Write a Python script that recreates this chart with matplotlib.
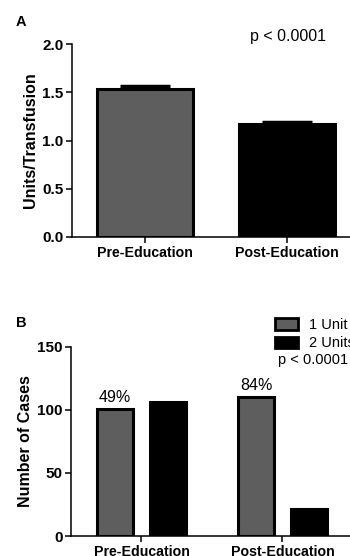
import matplotlib
matplotlib.use("Agg")
import matplotlib.pyplot as plt
from matplotlib.patches import Patch

plt.rcParams['font.family'] = ['Liberation Sans', 'DejaVu Sans']

groups = ["Pre-Education", "Post-Education"]
units_per_transfusion = [1.53, 1.17]
units_sem = [0.03, 0.025]
one_unit_cases = [101, 110]
two_unit_cases = [106, 21]
pct_labels = ["49%", "84%"]
series_names = ["1 Unit", "2 Units"]

GRAY = "#5e5e5e"
W, H = 350, 556
fig = plt.figure(figsize=(W / 100, H / 100), dpi=100)

def style(ax):
    for s in ("top", "right"):
        ax.spines[s].set_visible(False)
    for s in ("left", "bottom"):
        ax.spines[s].set_linewidth(1.1)
    ax.tick_params(direction="out", length=4, width=1.1)
    ax.tick_params(axis="y", labelsize=11, pad=2)
    ax.tick_params(axis="x", labelsize=10.2, pad=2.5)
    for lab in ax.get_xticklabels() + ax.get_yticklabels():
        lab.set_fontweight("bold")

# Panel A
axA = fig.add_axes([72 / W, 1 - 237 / H, 1 - 72 / W, (237 - 44) / H])
x = [0, 1]
axA.bar(x, units_per_transfusion, width=0.68, color=[GRAY, "black"],
        edgecolor="black", linewidth=2.2, zorder=2)
axA.errorbar(x, units_per_transfusion, yerr=[[0, 0], units_sem], fmt="none",
             ecolor="black", elinewidth=2, capsize=18, capthick=2.5, zorder=1)
axA.set_xlim(-0.514, 1.444)
axA.set_ylim(0, 2.0)
axA.set_yticks([0, 0.5, 1.0, 1.5, 2.0])
axA.set_yticklabels(["0.0", "0.5", "1.0", "1.5", "2.0"])
axA.set_xticks(x)
axA.set_xticklabels(groups)
axA.set_ylabel("Units/Transfusion", fontsize=11.5, fontweight="bold", labelpad=3)
style(axA)
fig.text(250 / W, 1 - 37 / H, "p < 0.0001", fontsize=11.5, va="center", ha="left")
fig.text(16 / W, 1 - 22 / H, "A", fontsize=10.5, fontweight="bold", va="center")

# Panel B
axB = fig.add_axes([71 / W, 1 - 536 / H, 1 - 71 / W, (536 - 346.7) / H])
off = 0.187
bw = 0.26
xb1 = [xi - off for xi in x]
xb2 = [xi + off for xi in x]
axB.bar(xb1, one_unit_cases, width=bw, color=GRAY, edgecolor="black",
        linewidth=2.2, label=series_names[0])
axB.bar(xb2, two_unit_cases, width=bw, color="black", edgecolor="black",
        linewidth=2.2, label=series_names[1])
for xi, v, t in zip(xb1, one_unit_cases, pct_labels):
    axB.text(xi, v + 3, t, ha="center", va="bottom", fontsize=11.5)
axB.set_xlim(-0.5, 1.479)
axB.set_ylim(0, 150)
axB.set_yticks([0, 50, 100, 150])
axB.set_xticks(x)
axB.set_xticklabels(groups)
axB.set_ylabel("Number of Cases", fontsize=11.5, fontweight="bold", labelpad=3)
style(axB)
handles = [Patch(facecolor=GRAY, edgecolor="black", linewidth=2),
           Patch(facecolor="black", edgecolor="black", linewidth=2)]
fig.legend(handles, series_names, loc="upper left",
           bbox_to_anchor=(275 / W, 1 - 318 / H), frameon=False,
           fontsize=10.5, handlelength=1.55, handleheight=0.85,
           handletextpad=0.75, labelspacing=0.3, borderpad=0, borderaxespad=0)
fig.text(278 / W, 1 - 360 / H, "p < 0.0001", fontsize=10.5, va="center", ha="left")
fig.text(16 / W, 1 - 323 / H, "B", fontsize=10.5, fontweight="bold", va="center")

fig.savefig("out.png", dpi=100)
